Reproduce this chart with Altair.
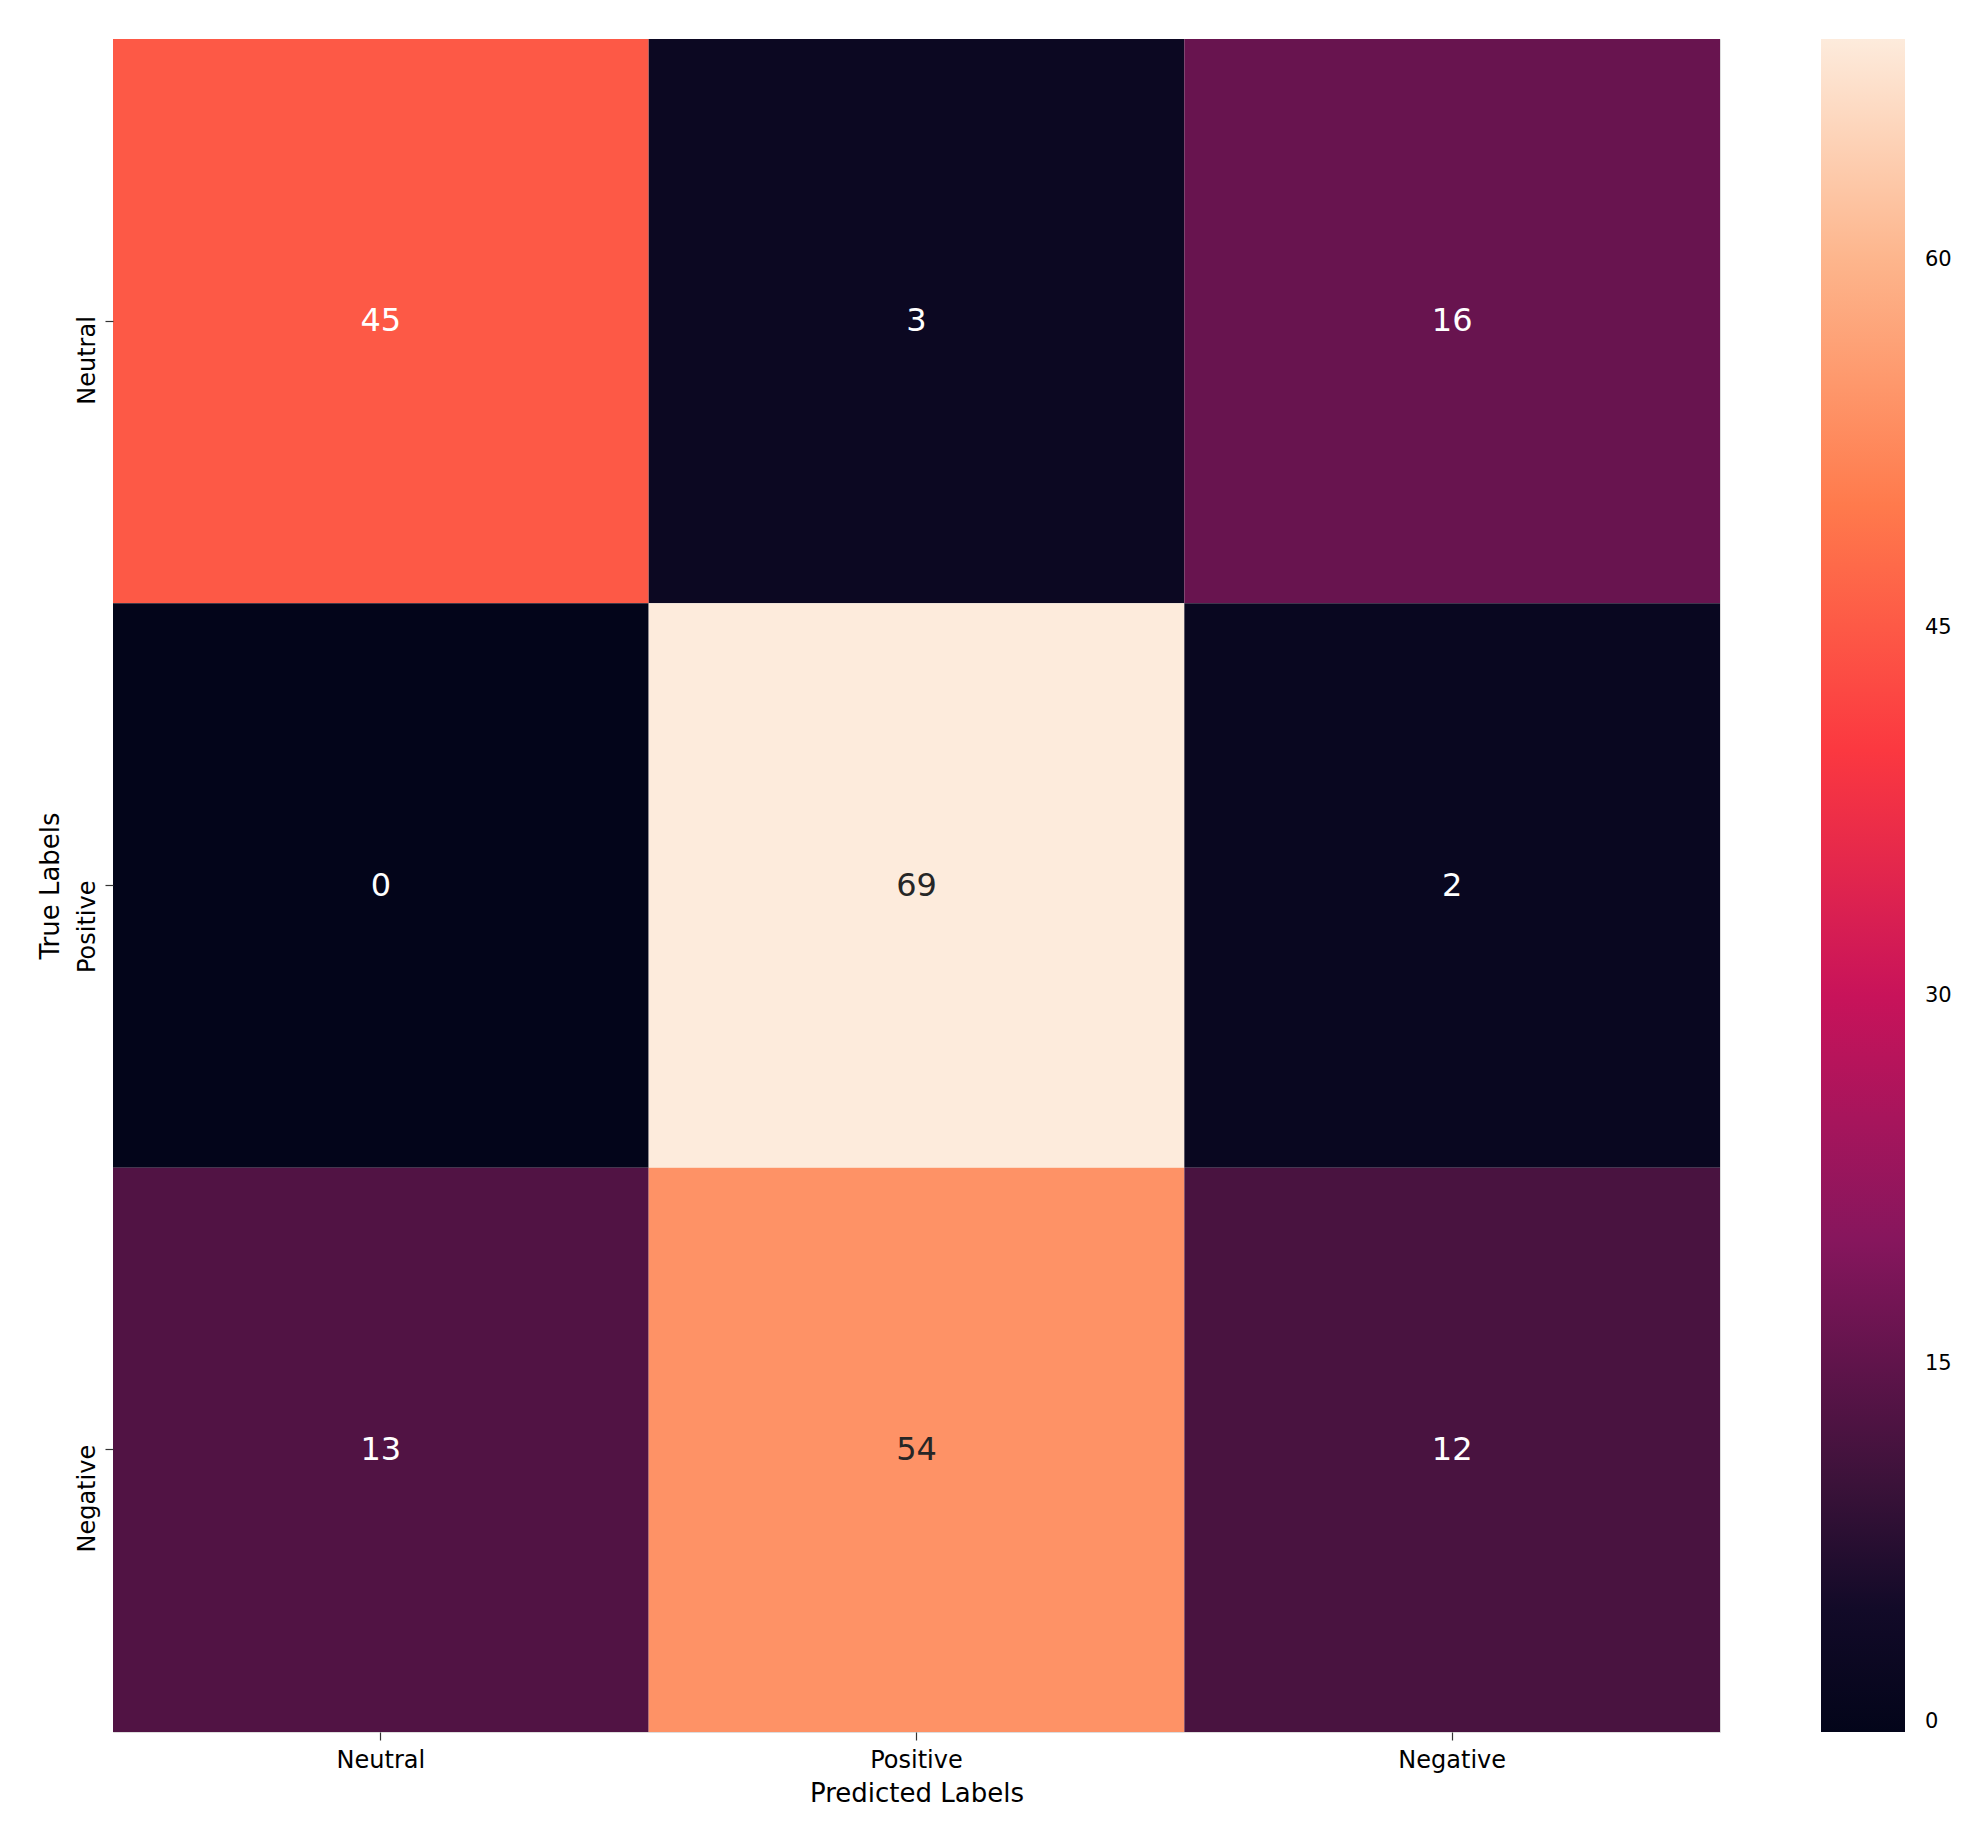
import altair as alt
import pandas as pd

# ---- data ----
pred_labels = ["Neutral", "Positive", "Negative"]
true_labels = ["Neutral", "Positive", "Negative"]
row_neutral = [45, 3, 16]
row_positive = [0, 69, 2]
row_negative = [13, 54, 12]
colorbar_ticks = [0, 15, 30, 45, 60]

# rocket-like colour stops (as seen in the reference)
color_stops = [0, 5, 10, 20, 30, 40, 50, 60, 69]
color_range = ["#03051A", "#120A28", "#3A1239", "#86165D", "#C8135A",
               "#FB3840", "#FF7A4C", "#FDB58C", "#FDEBDC"]

rows = [row_neutral, row_positive, row_negative]
records = []
for t, vals in zip(true_labels, rows):
    for p, v in zip(pred_labels, vals):
        records.append({"true": t, "pred": p, "value": v})
df = pd.DataFrame(records)

W, H = 1607, 1693
FONT = "DejaVu Sans"

x_enc = alt.X(
    "pred:N", sort=pred_labels,
    scale=alt.Scale(paddingInner=0, paddingOuter=0),
    axis=alt.Axis(
        title="Predicted Labels", labelAngle=0, labelFontSize=24, titleFontSize=26,
        labelFont=FONT, titleFont=FONT, labelColor="#000000", titleColor="#000000",
        tickSize=8, tickColor="#333333", tickWidth=1.2, domain=False, grid=False,
        labelPadding=27, labelBaseline="alphabetic", titleFontWeight="normal",
        titleX=W / 2, titleY=69, titleBaseline="alphabetic", titleAlign="center",
    ),
)
y_enc = alt.Y(
    "true:N", sort=true_labels,
    scale=alt.Scale(paddingInner=0, paddingOuter=0),
    axis=alt.Axis(
        title="True Labels", labelAngle=270, labelFontSize=24, titleFontSize=26,
        labelFont=FONT, titleFont=FONT, labelColor="#000000", titleColor="#000000",
        tickSize=8, tickColor="#333333", tickWidth=1.2, domain=False, grid=False,
        labelPadding=11, labelAlign="right", labelBaseline="alphabetic", labelOffset=-5,
        titleAngle=270, titleFontWeight="normal",
        titleX=-55, titleY=H / 2, titleBaseline="alphabetic", titleAlign="center",
    ),
)

color_scale = alt.Scale(domain=color_stops, range=color_range, interpolate="rgb")

heat = alt.Chart(df).mark_rect(strokeWidth=0).encode(
    x=x_enc,
    y=y_enc,
    color=alt.Color(
        "value:Q", scale=color_scale,
        legend=alt.Legend(
            title=None, orient="right", offset=101, padding=0,
            gradientLength=H, gradientThickness=84, gradientStrokeWidth=0,
            values=colorbar_ticks, labelFontSize=21, labelFont=FONT,
            labelColor="#000000", labelOffset=20, labelBaseline="middle",
            labelOverlap=False,
        ),
    ),
)

text = alt.Chart(df).mark_text(fontSize=32, font=FONT, baseline="middle", align="center").encode(
    x=alt.X("pred:N", sort=pred_labels),
    y=alt.Y("true:N", sort=true_labels),
    text="value:Q",
    color=alt.condition(alt.datum.value > 50, alt.value("#262626"), alt.value("#FFFFFF")),
)

chart = alt.layer(heat, text).properties(
    width=W, height=H,
    autosize=alt.AutoSizeParams(type="none"),
    padding={"left": 105, "top": 31, "right": 246, "bottom": 89},
).configure_view(strokeWidth=0).configure(background="white")

chart.save("out.html", embed_options={"renderer": "svg", "actions": False})
